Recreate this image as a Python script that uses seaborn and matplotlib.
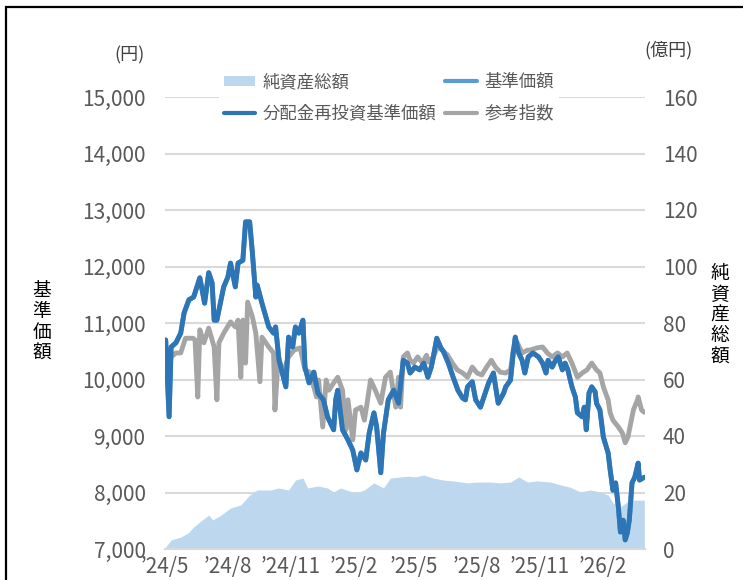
import pandas as pd
import matplotlib
matplotlib.use('Agg')
import matplotlib.pyplot as plt
import matplotlib.dates as mdates
from matplotlib.ticker import FuncFormatter, MultipleLocator
from matplotlib.patches import Patch, Rectangle
from matplotlib.lines import Line2D
import seaborn as sns

# 基準価額 (円)
price_dates = [
    '2024-05-02', '2024-05-07', '2024-05-10', '2024-05-17', '2024-05-24', '2024-05-29',
    '2024-06-05', '2024-06-12', '2024-06-21', '2024-06-28', '2024-07-04', '2024-07-09',
    '2024-07-12', '2024-07-16', '2024-07-19', '2024-07-26', '2024-08-01', '2024-08-05',
    '2024-08-12', '2024-08-16', '2024-08-23', '2024-08-27', '2024-09-02', '2024-09-06',
    '2024-09-11', '2024-09-13', '2024-09-20', '2024-09-30', '2024-10-07', '2024-10-10',
    '2024-10-15', '2024-10-25', '2024-10-29', '2024-11-04', '2024-11-08', '2024-11-13',
    '2024-11-19', '2024-11-22', '2024-11-28', '2024-12-05', '2024-12-11', '2024-12-19',
    '2024-12-25', '2025-01-03', '2025-01-06', '2025-01-09', '2025-01-16', '2025-01-24',
    '2025-01-31', '2025-02-06', '2025-02-12', '2025-02-19', '2025-02-24', '2025-03-03',
    '2025-03-07', '2025-03-13', '2025-03-17', '2025-03-24', '2025-04-01', '2025-04-08',
    '2025-04-15', '2025-04-21', '2025-04-25', '2025-05-02', '2025-05-09', '2025-05-15',
    '2025-05-21', '2025-05-26', '2025-05-29', '2025-06-03', '2025-06-09', '2025-06-13',
    '2025-06-20', '2025-06-27', '2025-07-04', '2025-07-11', '2025-07-15', '2025-07-18',
    '2025-07-25', '2025-07-30', '2025-08-06', '2025-08-13', '2025-08-18', '2025-08-25',
    '2025-09-01', '2025-09-09', '2025-09-12', '2025-09-19', '2025-09-23', '2025-09-26',
    '2025-10-01', '2025-10-06', '2025-10-10', '2025-10-15', '2025-10-22', '2025-10-30',
    '2025-11-05', '2025-11-10', '2025-11-13', '2025-11-19', '2025-11-24', '2025-11-28',
    '2025-12-04', '2025-12-08', '2025-12-12', '2025-12-18', '2025-12-23', '2025-12-26',
    '2026-01-02', '2026-01-05', '2026-01-08', '2026-01-12', '2026-01-16', '2026-01-21',
    '2026-01-23', '2026-01-28', '2026-02-02', '2026-02-09', '2026-02-12', '2026-02-16',
    '2026-02-20', '2026-02-24', '2026-02-27', '2026-03-03', '2026-03-06', '2026-03-09',
    '2026-03-12', '2026-03-16', '2026-03-20', '2026-03-25', '2026-03-27', '2026-04-03',
]
price_values = [
    10700, 9340, 10575, 10650, 10820, 11180,
    11410, 11460, 11800, 11350, 11890, 11710,
    11050, 11050, 11230, 11640, 11810, 12060,
    11640, 12060, 12110, 12790, 12790, 12240,
    11460, 11670, 11350, 10930, 10820, 10930,
    10340, 9870, 10750, 10575, 10930, 10820,
    11050, 10220, 9940, 10130, 9760, 9640,
    9340, 9110, 9640, 9810, 9110, 8930,
    8750, 8400, 8700, 8575, 9050, 9410,
    9160, 8350, 9050, 9640, 9810, 9580,
    10340, 10290, 10115, 10220, 10170, 10290,
    10040, 10220, 10400, 10730, 10560, 10490,
    10290, 10040, 9810, 9670, 9640, 9870,
    9960, 9640, 9510, 9760, 9940, 10115,
    9580, 9760, 9870, 9990, 10470, 10750,
    10470, 10340, 10115, 10400, 10470, 10400,
    10290, 10115, 10340, 10220, 10340, 10400,
    10170, 10290, 10170, 9870, 9690, 9410,
    9340, 9510, 9110, 9760, 9870, 9780,
    9580, 9460, 8980, 8700, 8400, 8040,
    8170, 7740, 7300, 7510, 7160, 7280,
    7510, 8170, 8270, 8520, 8220, 8270,
]
# no distributions paid, so the reinvested series sits on top of 基準価額
reinvest_values = price_values

# 参考指数
index_dates = [
    '2024-05-02', '2024-05-06', '2024-05-10', '2024-05-17', '2024-05-24', '2024-05-31',
    '2024-06-11', '2024-06-14', '2024-06-18', '2024-06-21', '2024-06-27', '2024-07-04',
    '2024-07-12', '2024-07-16', '2024-07-19', '2024-07-26', '2024-08-05', '2024-08-12',
    '2024-08-16', '2024-08-20', '2024-08-23', '2024-08-27', '2024-08-30', '2024-09-06',
    '2024-09-11', '2024-09-17', '2024-09-20', '2024-09-30', '2024-10-07', '2024-10-09',
    '2024-10-14', '2024-10-21', '2024-10-29', '2024-11-06', '2024-11-15', '2024-11-22',
    '2024-11-29', '2024-12-09', '2024-12-12', '2024-12-18', '2024-12-23', '2024-12-27',
    '2025-01-03', '2025-01-09', '2025-01-16', '2025-01-21', '2025-01-24', '2025-01-31',
    '2025-02-04', '2025-02-12', '2025-02-17', '2025-02-21', '2025-02-26', '2025-03-05',
    '2025-03-13', '2025-03-20', '2025-03-27', '2025-04-04', '2025-04-08', '2025-04-11',
    '2025-04-15', '2025-04-21', '2025-04-25', '2025-04-30', '2025-05-06', '2025-05-13',
    '2025-05-19', '2025-05-22', '2025-05-29', '2025-06-04', '2025-06-11', '2025-06-19',
    '2025-06-26', '2025-07-03', '2025-07-11', '2025-07-18', '2025-07-25', '2025-08-01',
    '2025-08-08', '2025-08-15', '2025-08-22', '2025-08-28', '2025-09-04', '2025-09-12',
    '2025-09-19', '2025-09-23', '2025-09-29', '2025-10-06', '2025-10-14', '2025-10-17',
    '2025-10-28', '2025-11-05', '2025-11-12', '2025-11-19', '2025-11-27', '2025-12-04',
    '2025-12-11', '2025-12-18', '2025-12-26', '2026-01-02', '2026-01-09', '2026-01-16',
    '2026-01-23', '2026-01-28', '2026-02-02', '2026-02-09', '2026-02-12', '2026-02-16',
    '2026-02-24', '2026-03-02', '2026-03-06', '2026-03-10', '2026-03-16', '2026-03-18',
    '2026-03-24', '2026-03-25', '2026-03-30', '2026-04-03',
]
index_values = [
    9990, 10290, 10400, 10470, 10470, 10730,
    10730, 10700, 9690, 10880, 10650, 10910,
    10575, 9640, 10650, 10820, 11020, 10930,
    11050, 10040, 11050, 10290, 11370, 11110,
    10820, 9960, 10750, 10575, 10470, 9460,
    10400, 10115, 10400, 10520, 10560, 10170,
    10130, 9690, 9990, 9160, 9990, 9810,
    9940, 10040, 9810, 9110, 9640, 8930,
    9460, 9510, 9280, 9580, 9990, 9810,
    9580, 10040, 10130, 9510, 10040, 9510,
    10400, 10470, 10340, 10290, 10400, 10290,
    10430, 10310, 10400, 10575, 10520, 10430,
    10290, 10170, 10115, 10040, 10220, 10115,
    10080, 10220, 10340, 10220, 10130, 10115,
    10170, 10520, 10650, 10470, 10520, 10520,
    10560, 10575, 10470, 10400, 10470, 10400,
    10470, 10290, 10040, 10115, 10170, 10290,
    10170, 10115, 9870, 9640, 9410, 9280,
    9160, 9050, 8880, 8980, 9340, 9460,
    9640, 9690, 9460, 9420,
]

# 純資産総額 (億円)
nav_dates = [
    '2024-05-02', '2024-05-10', '2024-05-24', '2024-06-04', '2024-06-12', '2024-06-21',
    '2024-07-04', '2024-07-10', '2024-07-22', '2024-08-05', '2024-08-20', '2024-09-02',
    '2024-09-13', '2024-10-03', '2024-10-14', '2024-10-29', '2024-11-08', '2024-11-19',
    '2024-11-26', '2024-12-11', '2024-12-25', '2025-01-03', '2025-01-13', '2025-02-04',
    '2025-02-17', '2025-03-03', '2025-03-17', '2025-03-27', '2025-04-11', '2025-04-23',
    '2025-05-02', '2025-05-15', '2025-05-29', '2025-06-13', '2025-06-27', '2025-07-18',
    '2025-08-01', '2025-08-20', '2025-09-04', '2025-09-19', '2025-10-01', '2025-10-14',
    '2025-10-28', '2025-11-17', '2025-12-01', '2025-12-15', '2025-12-30', '2026-01-14',
    '2026-01-28', '2026-02-09', '2026-02-16', '2026-02-27', '2026-03-13', '2026-03-27',
    '2026-04-03',
]
nav_values = [
    0.7, 3.2, 4.2, 5.7, 7.8, 9.6,
    12.0, 10.3, 12.0, 14.5, 15.6, 19.1,
    20.9, 20.9, 21.6, 20.9, 24.4, 25.1,
    21.6, 22.3, 21.6, 20.2, 21.6, 19.8,
    20.9, 23.4, 21.6, 25.1, 25.5, 25.8,
    25.5, 26.2, 25.1, 24.4, 24.1, 23.4,
    23.7, 23.7, 23.4, 23.7, 25.5, 23.7,
    24.1, 23.7, 22.7, 21.9, 20.2, 20.9,
    20.2, 19.1, 16.3, 14.9, 17.3, 17.3,
    17.3,
]

C_NAV = '#BDD7EE'
C_PRICE = '#5B9BD5'
C_REINV = '#2E75B6'
C_INDEX = '#A5A5A5'
C_TEXT = '#595959'
C_GRID = '#D9D9D9'

sns.set_theme(style='white')
plt.rcParams['font.family'] = ['Noto Sans CJK JP', 'DejaVu Sans']

W, H = 743, 580
fig = plt.figure(figsize=(W / 100, H / 100), dpi=100)
ax = fig.add_axes([165 / W, 1 - 549 / H, 480 / W, 452 / H])
ax2 = ax.twinx()

# area (right axis) sits behind the price lines
nav_dt = pd.to_datetime(nav_dates)
ax2.fill_between(nav_dt, nav_values, color=C_NAV, lw=0, zorder=2)
ax2.set_ylim(0, 160)
ax2.yaxis.set_major_locator(MultipleLocator(20))
ax2.yaxis.grid(True, color=C_GRID, lw=1.5, zorder=0)
ax2.set_axisbelow(True)

ax.set_zorder(ax2.get_zorder() + 1)
ax.patch.set_visible(False)

price_dt = pd.to_datetime(price_dates)
index_dt = pd.to_datetime(index_dates)
sns.lineplot(x=index_dt, y=index_values, ax=ax, color=C_INDEX, lw=3.5)
sns.lineplot(x=price_dt, y=price_values, ax=ax, color=C_PRICE, lw=3.5)
sns.lineplot(x=price_dt, y=reinvest_values, ax=ax, color=C_REINV, lw=3.5)

ax.set_ylim(7000, 15000)
ax.yaxis.set_major_locator(MultipleLocator(1000))
ax.yaxis.set_major_formatter(FuncFormatter(lambda v, p: f'{v:,.0f}'))
ax.set_xlim(pd.Timestamp('2024-05-01'), pd.Timestamp('2026-04-04'))
ax.xaxis.set_major_locator(mdates.MonthLocator(bymonth=[2, 5, 8, 11]))


def fmt_month(v, p):
    d = mdates.num2date(v)
    return f"\u2019{d.year % 100}/{d.month}"


ax.xaxis.set_major_formatter(FuncFormatter(fmt_month))
ax.set_xlabel('')
ax.set_ylabel('')
ax.grid(False)

for a in (ax, ax2):
    for s in a.spines.values():
        s.set_visible(False)
ax.spines['bottom'].set_visible(True)
ax.spines['bottom'].set_color(C_GRID)
ax.spines['bottom'].set_linewidth(1.5)

ax.tick_params(axis='y', length=0, pad=14, labelsize=15, labelcolor=C_TEXT)
ax.tick_params(axis='x', length=0, pad=5, labelsize=15, labelcolor=C_TEXT)
ax2.tick_params(axis='y', length=0, pad=13, labelsize=15, labelcolor=C_TEXT)

fig.text(130 / W, 1 - 55 / H, '(円)', ha='center', va='center', fontsize=13, color='#404040')
fig.text(668 / W, 1 - 50 / H, '(億円)', ha='center', va='center', fontsize=13, color='#404040')
fig.text(42 / W, 1 - 322 / H, '基\n準\n価\n額', ha='center', va='center',
         fontsize=13.5, linespacing=1.0, color='black')
fig.text(720 / W, 1 - 315 / H, '純\n資\n産\n総\n額', ha='center', va='center',
         fontsize=13.5, linespacing=1.0, color='black')

handles = [
    Patch(facecolor=C_NAV, edgecolor='none'),
    Line2D([], [], color=C_REINV, lw=3),
    Line2D([], [], color=C_PRICE, lw=3),
    Line2D([], [], color=C_INDEX, lw=3),
]
labels = ['純資産総額', '分配金再投資基準価額', '基準価額', '参考指数']
leg = fig.legend(handles, labels, ncol=2, loc='upper left',
                 bbox_to_anchor=(210 / W, 1 - 59 / H), frameon=True,
                 facecolor='white', edgecolor='none', framealpha=1,
                 fontsize=12.5, handlelength=1.8, handletextpad=0.45,
                 handleheight=0.55, columnspacing=0.5, labelspacing=0.8,
                 borderpad=0.3)
for t in leg.get_texts():
    t.set_color(C_TEXT)

# outer frame of the original image
fig.patches.append(Rectangle((6 / W, -0.05), 1.0, 1 - 7 / H + 0.05,
                             transform=fig.transFigure, fill=False,
                             edgecolor='black', lw=1.6))

fig.savefig('out.png', dpi=100)
